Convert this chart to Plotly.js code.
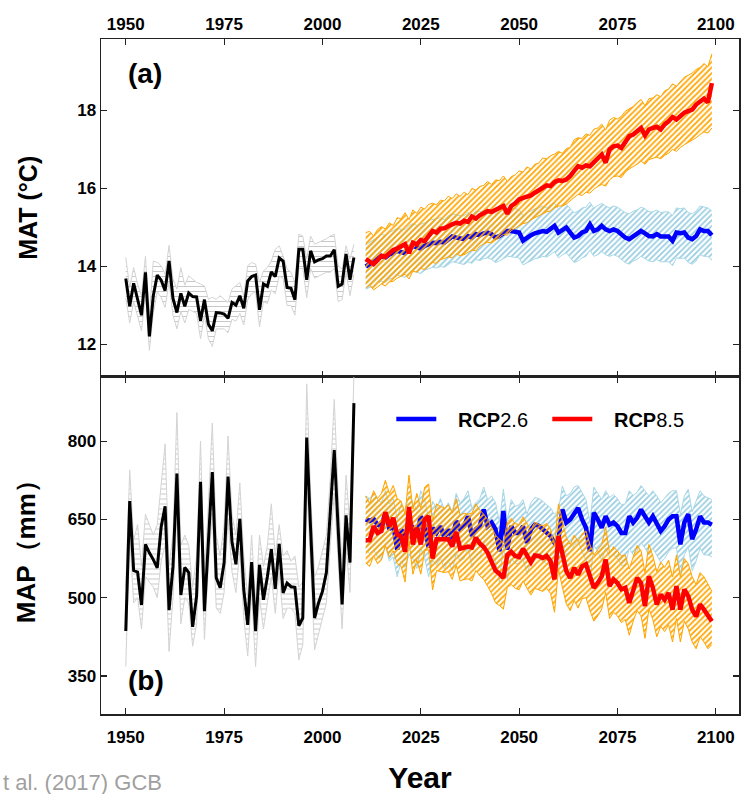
<!DOCTYPE html>
<html><head><meta charset="utf-8">
<script src="https://cdn.plot.ly/plotly-3.0.1.min.js"></script>
<style>html,body{margin:0;padding:0;background:#fff}#chart{width:743px;height:794px}</style>
</head><body><div id="chart"></div>
<script>
function yearsFrom(start, count){var a=[];for(var i=0;i<count;i++)a.push(start+i);return a;}
var histYears = yearsFrom(1950, 59);   // 1950-2008
var projYears = yearsFrom(2011, 89);   // 2011-2099

// ---- MAT (°C) ----
var matHist = [13.69,12.98,13.57,13.16,12.75,13.85,12.21,13.25,13.78,13.65,
13.38,14.14,13.18,12.82,13.31,12.98,13.32,13.23,13.22,12.61,
13.15,12.52,12.35,12.82,12.81,12.78,12.67,13.08,13.01,13.25,
12.93,13.63,13.74,13.78,12.89,13.55,13.49,13.86,13.74,14.22,
14.14,13.46,13.44,13.15,14.44,14.44,13.66,14.40,14.12,14.17,
14.20,14.27,14.27,14.43,13.49,13.55,14.32,13.66,14.23];
var matHistUp = [14.23,13.46,13.97,13.55,13.25,14.26,12.74,14.14,14.10,14.02,
13.80,14.54,13.68,13.42,13.97,13.52,13.76,13.68,13.59,13.55,
13.50,13.16,13.21,13.16,13.25,13.16,13.08,13.42,13.50,13.59,
13.25,14.02,14.10,14.06,13.59,13.89,13.97,14.14,14.44,14.53,
14.27,13.93,13.85,13.59,14.83,14.78,14.19,14.78,14.57,14.61,
14.65,14.71,14.78,14.83,14.02,13.93,14.53,14.19,14.57];
var matHistLo = [13.20,12.55,13.10,12.75,12.35,13.30,11.85,12.80,13.35,13.20,
12.95,13.60,12.75,12.40,12.85,12.55,12.90,12.85,12.80,12.15,
12.75,12.15,11.95,12.40,12.40,12.40,12.30,12.65,12.60,12.80,
12.50,13.15,13.30,13.35,12.45,13.10,13.05,13.40,13.30,13.75,
13.70,13.00,13.00,12.75,13.95,13.95,13.20,13.95,13.70,13.75,
13.80,13.85,13.85,13.95,13.10,13.15,13.85,13.25,13.80];

var mat85 = [14.19,14.14,14.06,14.16,14.27,14.25,14.34,14.42,14.46,14.53,
14.57,14.34,14.61,14.57,14.68,14.65,14.77,14.91,14.87,14.97,
14.98,15.04,15.08,15.12,15.10,15.17,15.14,15.28,15.23,15.31,
15.35,15.42,15.40,15.46,15.50,15.55,15.35,15.55,15.62,15.72,
15.76,15.79,15.82,15.89,15.96,16.02,16.08,16.06,16.16,16.21,
16.19,16.23,16.32,16.45,16.57,16.53,16.59,16.57,16.68,16.79,
16.87,16.66,17.00,17.08,17.10,17.04,17.21,17.34,17.38,17.47,
17.55,17.36,17.51,17.55,17.58,17.51,17.64,17.72,17.83,17.77,
17.87,17.94,17.98,18.02,18.15,18.24,18.30,18.21,18.70];
var mat85Up = [14.87,14.90,14.78,14.95,15.02,14.96,15.12,15.05,15.25,15.22,
15.38,15.20,15.45,15.36,15.52,15.47,15.59,15.62,15.58,15.70,
15.68,15.80,15.74,15.86,15.80,15.90,15.84,16.00,15.96,16.05,
16.08,16.18,16.10,16.22,16.20,16.32,16.18,16.30,16.35,16.45,
16.42,16.55,16.50,16.62,16.65,16.78,16.76,16.84,16.88,16.95,
16.90,17.02,17.05,17.25,17.30,17.28,17.40,17.36,17.52,17.55,
17.65,17.50,17.75,17.82,17.78,17.85,17.98,18.05,18.10,18.20,
18.28,18.12,18.30,18.32,18.40,18.35,18.50,18.55,18.68,18.62,
18.75,18.85,18.90,18.96,19.05,19.10,19.20,19.12,19.45];
var mat85Lo = [13.46,13.52,13.40,13.48,13.55,13.50,13.60,13.62,13.70,13.75,
13.80,13.68,13.88,13.85,13.95,13.92,14.02,14.10,14.08,14.18,
14.20,14.25,14.22,14.32,14.28,14.30,14.36,14.42,14.40,14.52,
14.58,14.62,14.60,14.68,14.75,14.82,14.80,14.92,14.98,15.05,
15.10,15.12,15.20,15.25,15.30,15.36,15.40,15.42,15.50,15.55,
15.55,15.60,15.68,15.75,15.85,15.82,15.90,15.88,15.98,16.05,
16.10,16.06,16.22,16.30,16.32,16.28,16.42,16.50,16.55,16.62,
16.70,16.62,16.74,16.78,16.80,16.76,16.85,16.90,17.00,16.95,
17.05,17.12,17.18,17.22,17.30,17.38,17.45,17.42,17.55];

var mat26 = [14.00,14.06,14.10,14.19,14.27,14.23,14.31,14.34,14.40,14.37,
14.34,14.44,14.53,14.49,14.46,14.53,14.57,14.61,14.60,14.63,
14.61,14.68,14.77,14.74,14.72,14.70,14.78,14.74,14.83,14.80,
14.85,14.87,14.83,14.74,14.78,14.85,14.91,14.91,14.89,14.87,
14.66,14.74,14.80,14.85,14.87,14.91,14.89,14.95,15.04,14.87,
14.95,15.00,14.87,14.74,14.78,14.87,14.91,15.08,14.91,14.95,
15.04,14.95,14.91,14.95,14.91,14.83,14.74,14.70,14.78,14.83,
14.91,14.85,14.78,14.77,14.83,14.77,14.77,14.77,14.66,14.87,
14.85,14.87,14.74,14.70,14.78,14.95,14.91,14.91,14.80];
var mat26Up = [14.55,14.62,14.68,14.75,14.82,14.80,14.88,14.92,14.98,14.95,
14.95,15.05,15.10,15.05,15.08,15.12,15.18,15.20,15.22,15.25,
15.20,15.30,15.35,15.32,15.30,15.30,15.38,15.32,15.42,15.40,
15.45,15.48,15.42,15.35,15.40,15.45,15.52,15.50,15.48,15.46,
15.30,15.38,15.42,15.48,15.50,15.55,15.50,15.58,15.62,15.48,
15.55,15.60,15.48,15.38,15.42,15.50,15.52,15.65,15.50,15.55,
15.62,15.55,15.50,15.55,15.52,15.45,15.38,15.35,15.42,15.45,
15.52,15.48,15.40,15.40,15.45,15.38,15.40,15.40,15.30,15.50,
15.48,15.50,15.38,15.35,15.42,15.55,15.52,15.50,15.42];
var mat26Lo = [13.42,13.45,13.50,13.58,13.62,13.60,13.68,13.70,13.78,13.75,
13.72,13.82,13.90,13.85,13.82,13.90,13.95,13.98,13.96,14.00,
13.98,14.05,14.12,14.10,14.08,14.05,14.12,14.08,14.18,14.15,
14.20,14.22,14.18,14.10,14.14,14.20,14.26,14.25,14.24,14.22,
14.04,14.10,14.16,14.20,14.22,14.26,14.24,14.30,14.38,14.22,
14.30,14.35,14.22,14.10,14.14,14.22,14.26,14.42,14.26,14.30,
14.38,14.30,14.26,14.30,14.26,14.18,14.10,14.06,14.14,14.18,
14.26,14.20,14.14,14.12,14.18,14.12,14.12,14.12,14.02,14.22,
14.20,14.22,14.10,14.06,14.14,14.30,14.26,14.26,14.16];

// ---- MAP (mm) ----
var mapHist = [436,685,552,549,486,602,586,573,557,636,
675,476,560,738,505,558,548,444,503,722,
474,618,741,538,519,567,732,607,564,651,
515,448,568,436,563,496,540,593,517,603,
509,528,521,520,446,461,807,630,461,490,
512,548,665,783,632,487,658,567,873];
var mapHistUp = [520,745,610,640,560,660,640,620,640,720,
795,560,620,855,600,620,600,520,580,800,
540,680,835,620,580,640,810,660,620,720,
580,500,620,490,620,560,600,680,580,640,
580,590,570,580,520,530,910,700,540,560,
590,620,730,880,700,560,735,640,930];
var mapHistLo = [368,620,490,500,440,540,530,520,500,570,
600,397,500,660,450,500,490,407,450,650,
420,560,660,480,470,510,650,550,510,590,
460,388,510,368,500,440,490,540,470,550,
460,480,480,470,381,410,720,560,400,430,
460,490,600,700,570,440,600,510,820];

var map85 = [610,610,637,624,628,664,637,653,621,618,
588,674,602,634,602,650,656,575,612,612,
610,612,598,626,594,597,598,596,615,604,
597,586,570,552,546,538,582,588,580,578,
594,580,568,581,580,576,580,570,535,618,
583,551,538,557,544,560,564,538,519,528,
541,573,522,535,528,516,519,490,516,538,
528,484,541,519,487,506,496,509,477,522,
477,516,503,477,464,487,477,464,455];
var map85Up = [695,680,705,690,700,725,700,715,690,685,
660,735,670,700,672,712,718,645,680,675,
672,678,662,690,658,662,660,662,680,668,
660,650,635,620,612,605,645,652,642,640,
655,642,630,645,640,638,642,632,600,680,
645,615,602,620,608,622,628,602,582,592,
602,635,585,598,590,580,582,555,578,600,
590,548,602,580,550,568,558,572,540,582,
540,575,565,540,525,548,540,525,512];
var map85Lo = [567,560,580,565,572,600,578,590,565,560,
530,610,545,572,545,590,592,515,552,550,
548,550,535,562,532,535,536,532,552,542,
535,522,508,490,485,478,520,525,518,515,
532,518,505,518,515,512,518,508,472,555,
520,488,475,495,480,498,500,475,455,465,
478,510,460,472,465,452,458,428,455,475,
465,422,478,458,425,445,435,448,415,460,
415,455,440,415,402,425,415,402,410];

var map26 = [650,647,651,640,637,663,631,640,592,631,
618,644,634,618,656,637,596,634,624,637,
615,631,612,647,631,637,656,618,631,637,
669,637,644,631,589,666,592,637,624,624,
637,605,631,640,638,631,624,618,605,612,
669,644,650,663,672,650,634,589,663,650,
634,656,640,644,637,624,624,656,644,653,
669,656,644,656,644,628,637,650,656,656,
602,644,660,612,631,656,644,644,640];
var map26Up = [695,690,700,688,682,705,680,690,650,680,
668,695,682,668,705,688,650,685,672,690,
668,682,665,700,682,690,705,672,682,690,
712,688,695,682,645,708,648,688,675,678,
688,660,682,692,690,685,678,672,660,668,
714,695,700,712,715,700,688,645,712,700,
688,705,692,698,690,678,680,705,696,702,
715,705,695,705,695,682,690,700,705,705,
660,695,708,665,685,705,695,692,688];
var map26Lo = [590,585,592,578,575,600,570,578,540,570,
558,582,575,556,595,575,540,572,562,575,
555,570,552,585,570,575,595,558,570,575,
605,575,582,570,530,600,535,575,565,565,
575,545,570,578,575,570,565,558,548,555,
605,582,588,600,608,588,572,530,600,588,
572,595,578,582,575,562,562,595,582,590,
605,595,582,595,582,568,575,588,595,595,
545,582,598,552,570,595,582,582,578];

var tickYears = [1950,1975,2000,2025,2050,2075,2100];
var matTicks = [12,14,16,18];
var mapTicks = [350,500,650,800];
var seriesNames = ['RCP2.6','RCP8.5'];

var FONT = '"Liberation Sans", Arial, sans-serif';
var NB = '\u00a0\u00a0\u00a0';

function band(xs, lo, up, xa, ya, lineColor, patColor, shape, size, sol){
  return [
    {x: xs, y: lo, xaxis: xa, yaxis: ya, type:'scatter', mode:'lines',
     line:{color: lineColor, width:1}, showlegend:false, hoverinfo:'skip'},
    {x: xs, y: up, xaxis: xa, yaxis: ya, type:'scatter', mode:'lines',
     line:{color: lineColor, width:1}, fill:'tonexty', fillcolor:'rgba(0,0,0,0)',
     fillpattern:{shape: shape, fgcolor: patColor, bgcolor:'rgba(0,0,0,0)', size: size, solidity: sol},
     showlegend:false, hoverinfo:'skip'}
  ];
}
function line(xs, ys, xa, ya, color, width, name, legend){
  return {x: xs, y: ys, xaxis: xa, yaxis: ya, type:'scatter', mode:'lines',
    line:{color: color, width: width}, name: name, showlegend: legend};
}
function legName(s){ return NB + '<b>' + s.slice(0,3) + '</b>' + s.slice(3); }

var traces = [];
// panel (a)
traces = traces.concat(band(histYears, matHistLo, matHistUp, 'x', 'y', '#d3d3d3', '#c8c8c8', '-', 5, 0.2));
traces.push(line(histYears, matHist, 'x', 'y', '#000000', 3, 'obs', false));
traces = traces.concat(band(projYears, mat26Lo, mat26Up, 'x', 'y', '#a9d8e6', '#94cbe0', '/', 4, 0.4));
traces.push(line(projYears, mat26, 'x', 'y', '#0000ff', 4.5, seriesNames[0], false));
traces = traces.concat(band(projYears, mat85Lo, mat85Up, 'x', 'y', '#ffa500', '#ffa500', '/', 4, 0.45));
traces.push(line(projYears, mat85, 'x', 'y', '#ff0000', 4.5, seriesNames[1], false));
// panel (b)
traces = traces.concat(band(histYears, mapHistLo, mapHistUp, 'x2', 'y2', '#d3d3d3', '#c8c8c8', '-', 5, 0.2));
traces.push(line(histYears, mapHist, 'x2', 'y2', '#000000', 3, 'obs', false));
traces = traces.concat(band(projYears, map26Lo, map26Up, 'x2', 'y2', '#a9d8e6', '#94cbe0', '/', 4, 0.4));
traces.push(line(projYears, map26, 'x2', 'y2', '#0000ff', 4.5, legName(seriesNames[0]), true));
traces = traces.concat(band(projYears, map85Lo, map85Up, 'x2', 'y2', '#ffa500', '#ffa500', '/', 4, 0.45));
traces.push(line(projYears, map85, 'x2', 'y2', '#ff0000', 4.5, legName(seriesNames[1]), true));

var tickFont = {family: FONT, size: 17, color:'#000', weight:'bold'};
var axCommon = {showline:true, linecolor:'#222', linewidth:1.5, mirror:'ticks', ticks:'inside',
  ticklen:6, tickwidth:1.2, tickcolor:'#222', showgrid:false, zeroline:false, tickfont: tickFont};
function ax(extra){ var o = {}; for (var k in axCommon) o[k]=axCommon[k]; for (var k2 in extra) o[k2]=extra[k2]; return o; }

var layout = {
  width:743, height:794,
  margin:{l:101, r:4, t:39, b:80},
  paper_bgcolor:'#fff', plot_bgcolor:'#fff',
  font:{family: FONT, color:'#000'},
  xaxis: ax({anchor:'y', side:'top', range:[1943.7,2105.9], tickvals: tickYears, ticklabelstandoff:1}),
  xaxis2: ax({anchor:'y2', side:'bottom', range:[1943.7,2105.9], tickvals: tickYears, ticklabelstandoff:7,
     title:{text:'Year', font:{family: FONT, size:30, weight:'bold', color:'#000'}, standoff:22}}),
  yaxis: ax({domain:[0.5,1], anchor:'x', range:[11.18,19.83], tickvals: matTicks,
     title:{text:'MAT (°C)', font:{family: FONT, size:25, weight:'bold', color:'#000'}, standoff:32}}),
  yaxis2: ax({domain:[0,0.5], anchor:'x2', range:[277,924], tickvals: mapTicks,
     title:{text:'MAP（mm）', font:{family: FONT, size:26, weight:'bold', color:'#000'}, standoff:24}}),
  showlegend:true,
  legend:{orientation:'h', traceorder:'normal', x:0.455, y:0.437, xanchor:'left', yanchor:'middle',
    font:{family: FONT, size:20, color:'#000'}, bgcolor:'rgba(0,0,0,0)', entrywidth:101, itemwidth:40},
  annotations:[
    {text:'(a)', xref:'paper', yref:'paper', x:(126-101)/638, y:(714-74)/675, xanchor:'left', yanchor:'middle',
     showarrow:false, font:{family: FONT, size:28, weight:'bold', color:'#000'}},
    {text:'(b)', xref:'paper', yref:'paper', x:(126-101)/638, y:(714-680)/675, xanchor:'left', yanchor:'middle',
     showarrow:false, font:{family: FONT, size:28, weight:'bold', color:'#000'}},
    {text:'t al. (2017) GCB', xref:'paper', yref:'paper', x:-100/638, y:(714-768)/675, xanchor:'left', yanchor:'top',
     showarrow:false, font:{family: FONT, size:22, color:'#a0a0a0'}}
  ]
};

Plotly.newPlot('chart', traces, layout, {displayModeBar:false, staticPlot:true});
</script></body></html>
